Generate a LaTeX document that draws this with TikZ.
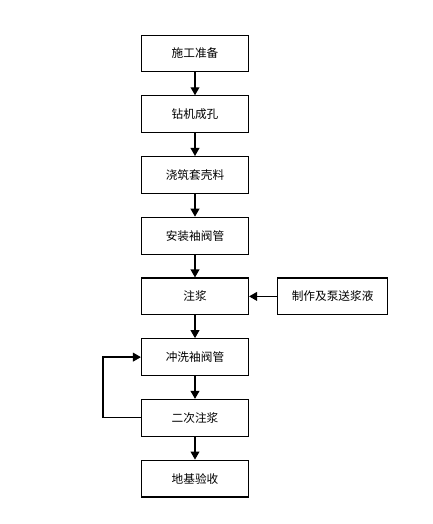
\documentclass[tikz,border=0pt]{standalone}
\usepackage{fontspec}
\newfontfamily\cjk{Noto Sans CJK SC}
\usetikzlibrary{positioning,arrows.meta}

\begin{document}
\begin{tikzpicture}[
  font=\cjk\fontsize{8.3pt}{10pt}\selectfont,
  node distance=5.7mm,
  stepbox/.style={draw=black, line width=0.8pt, minimum width=26.75mm,
                  minimum height=9.2mm, inner sep=1pt, align=center},
  arr/.style={-{Triangle[length=2mm, width=2.2mm]}, line width=0.9pt},
]
\useasboundingbox (0,0) rectangle (10.825,-13.1);
\node[stepbox] (prep) at (4.875,-1.3375) {施工准备};
\node[stepbox, below=of prep] (drill) {钻机成孔};
\node[stepbox, below=of drill] (shell) {浇筑套壳料};
\node[stepbox, below=of shell] (pipe) {安装袖阀管};
\node[stepbox, below=of pipe] (grout) {注浆};
\node[stepbox, minimum width=27.5mm, right=7mm of grout] (mix) {制作及泵送浆液};
\node[stepbox, below=of grout] (flush) {冲洗袖阀管};
\node[stepbox, below=of flush] (regrout) {二次注浆};
\node[stepbox, below=of regrout] (accept) {地基验收};

\draw[arr] (prep) -- (drill);
\draw[arr] (drill) -- (shell);
\draw[arr] (shell) -- (pipe);
\draw[arr] (pipe) -- (grout);
\draw[arr] (mix) -- (grout);
\draw[arr] (grout) -- (flush);
\draw[arr] (flush) -- (regrout);
\draw[arr] (regrout) -- (accept);
% loop back from second grouting
\coordinate[left=9.5mm of regrout.west] (loop);
\draw[arr] (regrout.west) -- (loop) |- (flush.west);
\end{tikzpicture}
\end{document}
